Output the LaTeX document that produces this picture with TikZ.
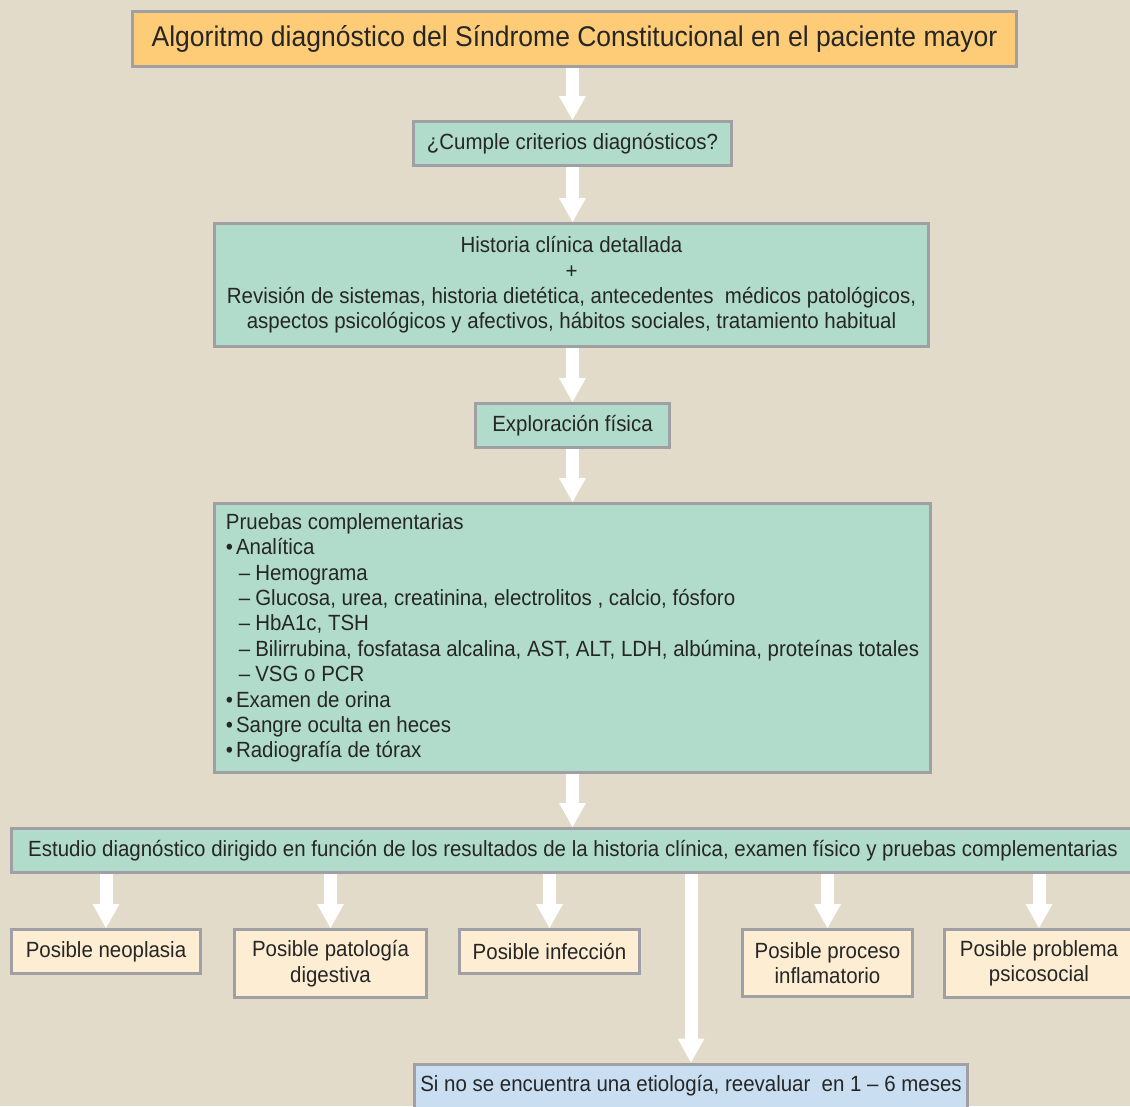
\documentclass[tikz,border=0pt]{standalone}
\usepackage{fontspec}
\setmainfont{Liberation Sans}[FakeStretch=0.93]
\usepackage{tikz}
\usetikzlibrary{arrows.meta}
\definecolor{paper}{RGB}{226,219,201}
\definecolor{softorange}{RGB}{254,204,118}
\definecolor{softmint}{RGB}{177,220,204}
\definecolor{softcream}{RGB}{253,237,211}
\definecolor{softsky}{RGB}{201,223,241}
\definecolor{boxgrey}{RGB}{160,160,164}
\definecolor{inkgrey}{RGB}{38,38,38}
\newcommand{\labdot}{\textbullet\hspace{3pt}}
\newcommand{\labdash}{\hspace*{13pt}--\hspace{5pt}}

\begin{document}
\begin{tikzpicture}[
    x=1pt, y=-1pt,
    basebox/.style={
        draw=boxgrey,
        line width=3pt,
        text=inkgrey,
        align=center,
        inner sep=0pt,
        font=\fontsize{22}{25.4}\selectfont
    },
    headbox/.style={
        basebox,
        fill=softorange,
        font=\fontsize{28.5}{32}\selectfont
    },
    stepbox/.style={
        basebox,
        fill=softmint
    },
    optionbox/.style={
        basebox,
        fill=softcream
    },
    waitbox/.style={
        basebox,
        fill=softsky
    },
    flow/.style={
        draw=white,
        line width=13pt,
        -{Triangle[width=27pt,length=24pt,line width=0pt]}
    }
]

% ============================================================
% PAGE
% ============================================================

\useasboundingbox (0,0) rectangle (1130,1106);
\fill[paper] (0,0) rectangle (1130,1106);
\clip (0,0) rectangle (1130,1106);

% ============================================================
% MAIN SEQUENCE
% ============================================================

\node[headbox, minimum width=884pt, minimum height=55pt] (title) at (574.5,39)
{Algoritmo diagnóstico del Síndrome Constitucional en el paciente mayor};

\node[stepbox, minimum width=318pt, minimum height=44pt] (cumple) at (572.5,143.5)
{¿Cumple criterios diagnósticos?};

\node[stepbox, minimum width=714pt, minimum height=123pt] (historia) at (571.5,285)
{Historia clínica detallada\\
+\\
Revisión de sistemas, historia dietética, antecedentes\ \ médicos patológicos,\\
aspectos psicológicos y afectivos, hábitos sociales, tratamiento habitual};

\node[stepbox, minimum width=194pt, minimum height=44pt] (explor) at (572.5,425.5)
{Exploración física};

\node[stepbox, align=left, minimum width=716pt, minimum height=269pt] (pruebas) at (572.5,638)
{Pruebas complementarias\\
\labdot Analítica\\
\labdash Hemograma\\
\labdash Glucosa, urea, creatinina, electrolitos , calcio, fósforo\\
\labdash HbA1c, TSH\\
\labdash Bilirrubina, fosfatasa alcalina, AST, ALT, LDH, albúmina, proteínas totales\\
\labdash VSG o PCR\\
\labdot Examen de orina\\
\labdot Sangre oculta en heces\\
\labdot Radiografía de tórax};

\node[stepbox, minimum width=1123pt, minimum height=44pt] (estudio) at (573,850.5)
{Estudio diagnóstico dirigido en función de los resultados de la historia clínica, examen físico y pruebas complementarias};

\draw[flow] (title.south -| cumple.north) -- (cumple.north);
\draw[flow] (cumple.south) -- (historia.north -| cumple.south);
\draw[flow] (historia.south -| explor.north) -- (explor.north);
\draw[flow] (explor.south) -- (pruebas.north);
\draw[flow] (pruebas.south) -- (estudio.north -| pruebas.south);

% ============================================================
% POSSIBLE CAUSES
% ============================================================

\node[optionbox, minimum width=189pt, minimum height=44pt] (neoplasia) at (106,951.5)
{Posible neoplasia};

\node[optionbox, minimum width=192pt, minimum height=68pt] (digestiva) at (330.5,963.5)
{Posible patología\\digestiva};

\node[optionbox, minimum width=180pt, minimum height=44pt] (infeccion) at (549.5,951.5)
{Posible infección};

\node[optionbox, minimum width=170pt, minimum height=67pt] (inflam) at (827.5,963)
{Posible proceso\\inflamatorio};

\node[optionbox, minimum width=190pt, minimum height=68pt] (psico) at (1039,963.5)
{Posible problema\\psicosocial};

\draw[flow] (neoplasia.north |- estudio.south) -- (neoplasia.north);
\draw[flow] (digestiva.north |- estudio.south) -- (digestiva.north);
\draw[flow] (infeccion.north |- estudio.south) -- (infeccion.north);
\draw[flow] (inflam.north |- estudio.south) -- (inflam.north);
\draw[flow] (psico.north |- estudio.south) -- (psico.north);

% ============================================================
% REEVALUATION
% ============================================================

\node[waitbox, minimum width=553pt, minimum height=44pt] (reeval) at (691,1086)
{Si no se encuentra una etiología, reevaluar\ \ en 1 -- 6 meses};

\draw[flow] (reeval.north |- estudio.south) -- (reeval.north);

\end{tikzpicture}
\end{document}
